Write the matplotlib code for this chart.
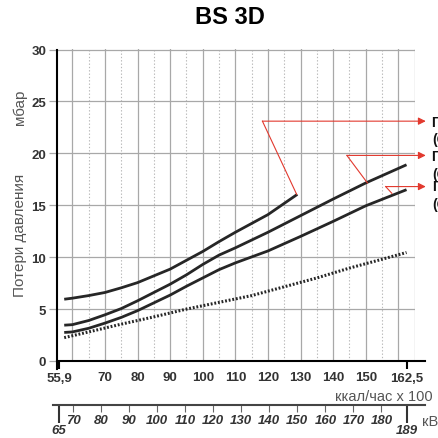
import numpy as np
import matplotlib
matplotlib.use("Agg")
import matplotlib.pyplot as plt
from matplotlib.ticker import FixedLocator, FixedFormatter

# Потери давления BS 3D
x_a = [57.5, 60, 65, 70, 75, 80, 85, 90, 95, 100, 105, 110, 120, 129]
y_a = [5.95, 6.05, 6.3, 6.6, 7.05, 7.55, 8.2, 8.85, 9.7, 10.55, 11.5, 12.4,
       14.1, 16.05]

x_b = [57.5, 60, 65, 70, 75, 80, 85, 90, 95, 100, 105, 110, 120, 130, 140,
       150, 162.5]
y_b = [3.45, 3.5, 3.9, 4.45, 5.05, 5.8, 6.6, 7.4, 8.3, 9.3, 10.2, 10.9, 12.4,
       14.0, 15.6, 17.15, 18.9]

x_c = [57.5, 60, 65, 70, 75, 80, 85, 90, 95, 100, 105, 110, 120, 130, 140,
       150, 162.5]
y_c = [2.75, 2.8, 3.15, 3.65, 4.2, 4.85, 5.6, 6.35, 7.2, 8.0, 8.8, 9.45, 10.6,
       12.0, 13.45, 14.95, 16.5]

x_d = [57.5, 65, 75, 85, 95, 105, 115, 125, 135, 145, 155, 162.5]
y_d = [2.25, 2.8, 3.55, 4.25, 5.0, 5.65, 6.3, 7.15, 8.0, 8.95, 9.8, 10.45]

# выноски: угол и конец на кривой
vynoski_ugol = [(118.3, 23.1), (144.2, 19.8), (156.1, 16.8)]
vynoski_konec = [(128.8, 16.05), (150.5, 17.15), (158.0, 16.15)]
vynoski_tekst = ["Природный газ\n(G20)", "Природный газ\n(G25)",
                 "Пропан\n(G31)"]

xtick_kcal = [70, 80, 90, 100, 110, 120, 130, 140, 150]
xtick_kcal_kraj = [55.9, 162.5]
xtick_kw = [70, 80, 90, 100, 110, 120, 130, 140, 150, 160, 170, 180]
xtick_kw_kraj = [65, 189]
yticks = [0, 5, 10, 15, 20, 25, 30]

UZKIJ = ["Liberation Sans Narrow", "Liberation Sans"]
KRASNYJ = "#e2392e"
CHERNYJ = "#262626"

plt.rcParams["font.family"] = ["Liberation Sans", "DejaVu Sans"]

fig = plt.figure(figsize=(4.38, 4.39), dpi=100)
ax = fig.add_axes([0.1295, 0.1754, 0.818, 0.7107])
ax.set_xlim(55.2, 165.1)
ax.set_ylim(0, 30.05)

# сетка
for v in np.arange(60, 166, 10):
    ax.axvline(v, color="#a8a8a8", lw=0.9, zorder=0)
ax.axvline(165, color="#a8a8a8", lw=0.9, zorder=0)
for v in np.arange(65, 160, 10):
    ax.axvline(v, color="#b8b8b8", lw=0.8, ls=(0, (1.2, 1.8)), zorder=0)
for v in yticks[1:]:
    ax.axhline(v, color="#a8a8a8", lw=0.9, zorder=0)

ax.plot(x_a, y_a, color=CHERNYJ, lw=2.0, solid_capstyle="butt")
ax.plot(x_b, y_b, color=CHERNYJ, lw=2.0, solid_capstyle="butt")
ax.plot(x_c, y_c, color=CHERNYJ, lw=2.0, solid_capstyle="butt")
ax.plot(x_d, y_d, color=CHERNYJ, lw=2.2, ls=(0, (0.6, 0.6)))

for (ux, uy), (kx, ky) in zip(vynoski_ugol, vynoski_konec):
    ax.plot([ux, kx], [uy, ky], color=KRASNYJ, lw=0.8, zorder=3)
    ax.annotate("", xy=(168.4, uy), xytext=(ux, uy),
                arrowprops=dict(arrowstyle="-|>", color=KRASNYJ, lw=0.8,
                                mutation_scale=11, shrinkA=0, shrinkB=0),
                annotation_clip=False, zorder=3)

# подписи справа (в оригинале обрезаны краем рисунка)
for t, yy in zip(vynoski_tekst, [131.5, 166, 196]):
    fig.text(432 / 438, 1 - yy / 439, t, fontsize=10, fontweight="bold",
             va="center", ha="left", linespacing=1.35, color="#111111")

# оси
for s in ["top", "right"]:
    ax.spines[s].set_visible(False)
ax.spines["left"].set_linewidth(1.5)
ax.spines["left"].set_bounds(-0.75, 30)
ax.spines["bottom"].set_linewidth(1.5)
ax.spines["bottom"].set_bounds(55.2, 168.2)

ax.set_yticks(yticks)
ax.set_yticklabels([str(v) for v in yticks], fontfamily=UZKIJ,
                   fontweight="bold", fontsize=9.5, color="#333333")
ax.tick_params(axis="y", length=6, width=0.9, color="#a8a8a8", pad=1.5)

ax.xaxis.set_major_locator(FixedLocator(xtick_kcal))
ax.xaxis.set_major_formatter(FixedFormatter([str(v) for v in xtick_kcal]))
ax.xaxis.set_minor_locator(FixedLocator(xtick_kcal_kraj))
ax.xaxis.set_minor_formatter(
    FixedFormatter([str(v).replace(".", ",") for v in xtick_kcal_kraj]))
ax.tick_params(axis="x", which="major", length=0, pad=7.5)
ax.tick_params(axis="x", which="minor", length=6, width=1.5,
               color="black", pad=1.8)
for lab in ax.get_xticklabels(which="both"):
    lab.set_fontfamily(UZKIJ)
    lab.set_fontweight("bold")
    lab.set_fontsize(9.5)
    lab.set_color("#333333")

# шкала кВт
sec = ax.secondary_xaxis(-0.140, functions=(lambda k: k / 0.86,
                                             lambda w: w * 0.86))
sec.spines["bottom"].set_linewidth(1.5)
sec.spines["bottom"].set_color("#444444")
sec.spines["bottom"].set_bounds(62.9, 195.6)
sec.xaxis.set_major_locator(FixedLocator(xtick_kw))
sec.xaxis.set_major_formatter(FixedFormatter([str(v) for v in xtick_kw]))
sec.xaxis.set_minor_locator(FixedLocator(xtick_kw_kraj))
sec.xaxis.set_minor_formatter(FixedFormatter([str(v) for v in xtick_kw_kraj]))
sec.tick_params(axis="x", which="major", length=5, width=0.8,
                color="#666666", pad=1.5)
sec.tick_params(axis="x", which="minor", length=13, width=1.5,
                color="#333333", pad=0.8)
for lab in sec.get_xticklabels(which="both"):
    lab.set_fontfamily(UZKIJ)
    lab.set_fontweight("bold")
    lab.set_fontstyle("italic")
    lab.set_fontsize(9.5)
    lab.set_color("#333333")

fig.text(230 / 438, 1 - 17.5 / 439, "BS 3D", fontsize=17, fontweight="bold",
         ha="center", va="center")
fig.text(20 / 438, 1 - 107 / 439, "мбар", rotation=90, fontsize=11,
         ha="center", va="center", color="#555555")
fig.text(20 / 438, 1 - 235 / 439, "Потери давления", rotation=90,
         fontsize=11, ha="center", va="center", color="#555555")
fig.text(433 / 438, 1 - 397 / 439, "ккал/час x 100", fontsize=10.5,
         ha="right", va="center", color="#555555")
fig.text(422 / 438, 1 - 422 / 439, "кВт", fontsize=10.5,
         ha="left", va="center", color="#555555")

fig.savefig("out.png", dpi=100)
plt.close(fig)
